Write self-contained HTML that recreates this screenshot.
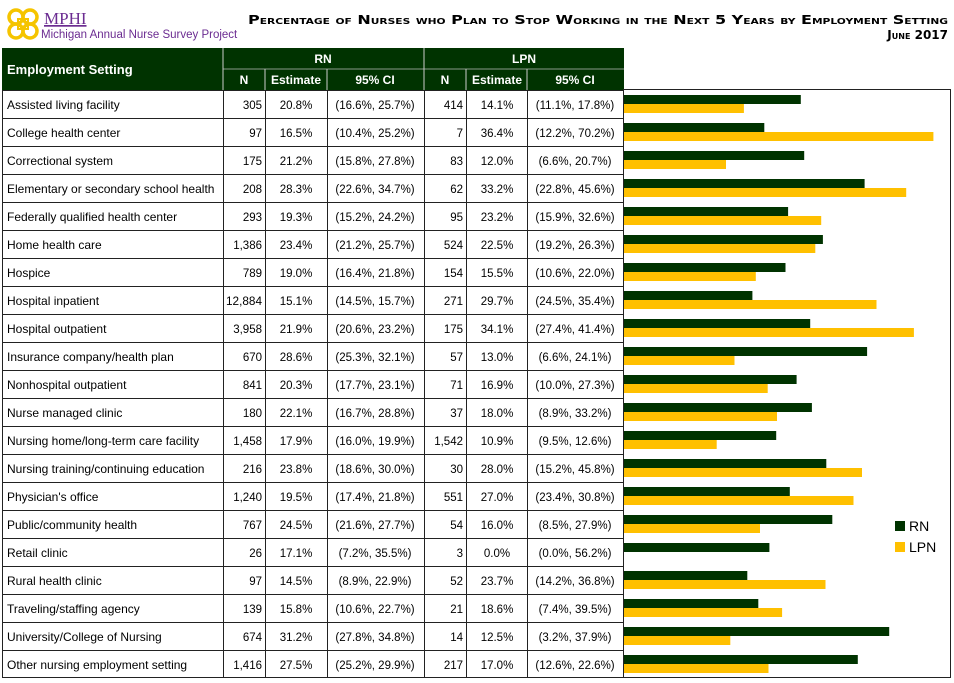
<!DOCTYPE html>
<html><head><meta charset="utf-8"><style>
html,body{margin:0;padding:0;background:#fff;}
svg{display:block;}
text{font-family:"Liberation Sans",sans-serif;font-size:12px;fill:#000;}
.h{font-weight:bold;fill:#fff;}
.r{text-anchor:end;}
.c{text-anchor:middle;}
.n{font-size:11.5px;}
</style></head><body>
<svg width="954" height="683" viewBox="0 0 954 683" xmlns="http://www.w3.org/2000/svg">
<!-- logo -->
<g fill="none" stroke="#F5C400" stroke-width="3.5">
<circle cx="16" cy="17" r="7"/><circle cx="30" cy="17" r="7"/><circle cx="16" cy="31" r="7"/><circle cx="30" cy="31" r="7"/>
<rect x="18" y="19" width="10" height="10" stroke-width="2"/>
</g>
<text x="44" y="24" style="font-family:'Liberation Serif',serif;font-size:17px;fill:#6B2C91;text-decoration:underline">MPHI</text>
<text x="41" y="38" style="font-size:11.5px;fill:#6B2C91">Michigan Annual Nurse Survey Project</text>
<!-- title -->
<text x="948" y="24" class="r" style="font-family:'DejaVu Sans',sans-serif;font-weight:bold;font-size:12px;font-variant:small-caps" textLength="700" lengthAdjust="spacingAndGlyphs">Percentage of Nurses who Plan to Stop Working in the Next 5 Years by Employment Setting</text>
<text x="948" y="39" class="r" style="font-family:'DejaVu Sans',sans-serif;font-weight:bold;font-size:12px;font-variant:small-caps">June 2017</text>
<!-- header -->
<rect x="2" y="48" width="622" height="42" fill="#003300"/>
<g stroke="#8a9a8a" stroke-width="1">
<line x1="223" y1="69" x2="624" y2="69"/>
</g>
<g stroke="#ccc" stroke-width="1">
<line x1="223" y1="48" x2="223" y2="90"/><line x1="424" y1="48" x2="424" y2="90"/>
<line x1="265" y1="69" x2="265" y2="90"/><line x1="327" y1="69" x2="327" y2="90"/>
<line x1="466" y1="69" x2="466" y2="90"/><line x1="527" y1="69" x2="527" y2="90"/>
</g>
<text x="7" y="74" class="h" style="font-size:13px">Employment Setting</text>
<text x="323" y="63" class="h c">RN</text>
<text x="524" y="63" class="h c">LPN</text>
<text x="244" y="84" class="h c">N</text><text x="296" y="84" class="h c">Estimate</text><text x="375" y="84" class="h c">95% CI</text>
<text x="445" y="84" class="h c">N</text><text x="497" y="84" class="h c">Estimate</text><text x="575" y="84" class="h c">95% CI</text>
<!-- table grid -->
<g stroke="#222" stroke-width="1" fill="none">
<rect x="2.5" y="90.5" width="621" height="587"/>
<rect x="623.5" y="89.5" width="327" height="588"/>
<line x1="223.5" y1="90" x2="223.5" y2="678"/><line x1="265.5" y1="90" x2="265.5" y2="678"/>
<line x1="327.5" y1="90" x2="327.5" y2="678"/><line x1="424.5" y1="90" x2="424.5" y2="678"/>
<line x1="466.5" y1="90" x2="466.5" y2="678"/><line x1="527.5" y1="90" x2="527.5" y2="678"/>
<line x1="2" y1="118.5" x2="624" y2="118.5"/><line x1="2" y1="146.5" x2="624" y2="146.5"/>
<line x1="2" y1="174.5" x2="624" y2="174.5"/><line x1="2" y1="202.5" x2="624" y2="202.5"/>
<line x1="2" y1="230.5" x2="624" y2="230.5"/><line x1="2" y1="258.5" x2="624" y2="258.5"/>
<line x1="2" y1="286.5" x2="624" y2="286.5"/><line x1="2" y1="314.5" x2="624" y2="314.5"/>
<line x1="2" y1="342.5" x2="624" y2="342.5"/><line x1="2" y1="370.5" x2="624" y2="370.5"/>
<line x1="2" y1="398.5" x2="624" y2="398.5"/><line x1="2" y1="426.5" x2="624" y2="426.5"/>
<line x1="2" y1="454.5" x2="624" y2="454.5"/><line x1="2" y1="482.5" x2="624" y2="482.5"/>
<line x1="2" y1="510.5" x2="624" y2="510.5"/><line x1="2" y1="538.5" x2="624" y2="538.5"/>
<line x1="2" y1="566.5" x2="624" y2="566.5"/><line x1="2" y1="594.5" x2="624" y2="594.5"/>
<line x1="2" y1="622.5" x2="624" y2="622.5"/><line x1="2" y1="650.5" x2="624" y2="650.5"/>
</g>
<!-- rows -->
<g class="n">
<text x="7" y="109">Assisted living facility</text><text x="262" y="109" class="r n">305</text><text x="296" y="109" class="c n">20.8%</text><text x="375" y="109" class="c n">(16.6%, 25.7%)</text><text x="463" y="109" class="r n">414</text><text x="497" y="109" class="c n">14.1%</text><text x="575" y="109" class="c n">(11.1%, 17.8%)</text>
<text x="7" y="137">College health center</text><text x="262" y="137" class="r n">97</text><text x="296" y="137" class="c n">16.5%</text><text x="375" y="137" class="c n">(10.4%, 25.2%)</text><text x="463" y="137" class="r n">7</text><text x="497" y="137" class="c n">36.4%</text><text x="575" y="137" class="c n">(12.2%, 70.2%)</text>
<text x="7" y="165">Correctional system</text><text x="262" y="165" class="r n">175</text><text x="296" y="165" class="c n">21.2%</text><text x="375" y="165" class="c n">(15.8%, 27.8%)</text><text x="463" y="165" class="r n">83</text><text x="497" y="165" class="c n">12.0%</text><text x="575" y="165" class="c n">(6.6%, 20.7%)</text>
<text x="7" y="193">Elementary or secondary school health</text><text x="262" y="193" class="r n">208</text><text x="296" y="193" class="c n">28.3%</text><text x="375" y="193" class="c n">(22.6%, 34.7%)</text><text x="463" y="193" class="r n">62</text><text x="497" y="193" class="c n">33.2%</text><text x="575" y="193" class="c n">(22.8%, 45.6%)</text>
<text x="7" y="221">Federally qualified health center</text><text x="262" y="221" class="r n">293</text><text x="296" y="221" class="c n">19.3%</text><text x="375" y="221" class="c n">(15.2%, 24.2%)</text><text x="463" y="221" class="r n">95</text><text x="497" y="221" class="c n">23.2%</text><text x="575" y="221" class="c n">(15.9%, 32.6%)</text>
<text x="7" y="249">Home health care</text><text x="262" y="249" class="r n">1,386</text><text x="296" y="249" class="c n">23.4%</text><text x="375" y="249" class="c n">(21.2%, 25.7%)</text><text x="463" y="249" class="r n">524</text><text x="497" y="249" class="c n">22.5%</text><text x="575" y="249" class="c n">(19.2%, 26.3%)</text>
<text x="7" y="277">Hospice</text><text x="262" y="277" class="r n">789</text><text x="296" y="277" class="c n">19.0%</text><text x="375" y="277" class="c n">(16.4%, 21.8%)</text><text x="463" y="277" class="r n">154</text><text x="497" y="277" class="c n">15.5%</text><text x="575" y="277" class="c n">(10.6%, 22.0%)</text>
<text x="7" y="305">Hospital inpatient</text><text x="262" y="305" class="r n" textLength="36" lengthAdjust="spacingAndGlyphs">12,884</text><text x="296" y="305" class="c n">15.1%</text><text x="375" y="305" class="c n">(14.5%, 15.7%)</text><text x="463" y="305" class="r n">271</text><text x="497" y="305" class="c n">29.7%</text><text x="575" y="305" class="c n">(24.5%, 35.4%)</text>
<text x="7" y="333">Hospital outpatient</text><text x="262" y="333" class="r n">3,958</text><text x="296" y="333" class="c n">21.9%</text><text x="375" y="333" class="c n">(20.6%, 23.2%)</text><text x="463" y="333" class="r n">175</text><text x="497" y="333" class="c n">34.1%</text><text x="575" y="333" class="c n">(27.4%, 41.4%)</text>
<text x="7" y="361">Insurance company/health plan</text><text x="262" y="361" class="r n">670</text><text x="296" y="361" class="c n">28.6%</text><text x="375" y="361" class="c n">(25.3%, 32.1%)</text><text x="463" y="361" class="r n">57</text><text x="497" y="361" class="c n">13.0%</text><text x="575" y="361" class="c n">(6.6%, 24.1%)</text>
<text x="7" y="389">Nonhospital outpatient</text><text x="262" y="389" class="r n">841</text><text x="296" y="389" class="c n">20.3%</text><text x="375" y="389" class="c n">(17.7%, 23.1%)</text><text x="463" y="389" class="r n">71</text><text x="497" y="389" class="c n">16.9%</text><text x="575" y="389" class="c n">(10.0%, 27.3%)</text>
<text x="7" y="417">Nurse managed clinic</text><text x="262" y="417" class="r n">180</text><text x="296" y="417" class="c n">22.1%</text><text x="375" y="417" class="c n">(16.7%, 28.8%)</text><text x="463" y="417" class="r n">37</text><text x="497" y="417" class="c n">18.0%</text><text x="575" y="417" class="c n">(8.9%, 33.2%)</text>
<text x="7" y="445">Nursing home/long-term care facility</text><text x="262" y="445" class="r n">1,458</text><text x="296" y="445" class="c n">17.9%</text><text x="375" y="445" class="c n">(16.0%, 19.9%)</text><text x="463" y="445" class="r n">1,542</text><text x="497" y="445" class="c n">10.9%</text><text x="575" y="445" class="c n">(9.5%, 12.6%)</text>
<text x="7" y="473">Nursing training/continuing education</text><text x="262" y="473" class="r n">216</text><text x="296" y="473" class="c n">23.8%</text><text x="375" y="473" class="c n">(18.6%, 30.0%)</text><text x="463" y="473" class="r n">30</text><text x="497" y="473" class="c n">28.0%</text><text x="575" y="473" class="c n">(15.2%, 45.8%)</text>
<text x="7" y="501">Physician's office</text><text x="262" y="501" class="r n">1,240</text><text x="296" y="501" class="c n">19.5%</text><text x="375" y="501" class="c n">(17.4%, 21.8%)</text><text x="463" y="501" class="r n">551</text><text x="497" y="501" class="c n">27.0%</text><text x="575" y="501" class="c n">(23.4%, 30.8%)</text>
<text x="7" y="529">Public/community health</text><text x="262" y="529" class="r n">767</text><text x="296" y="529" class="c n">24.5%</text><text x="375" y="529" class="c n">(21.6%, 27.7%)</text><text x="463" y="529" class="r n">54</text><text x="497" y="529" class="c n">16.0%</text><text x="575" y="529" class="c n">(8.5%, 27.9%)</text>
<text x="7" y="557">Retail clinic</text><text x="262" y="557" class="r n">26</text><text x="296" y="557" class="c n">17.1%</text><text x="375" y="557" class="c n">(7.2%, 35.5%)</text><text x="463" y="557" class="r n">3</text><text x="497" y="557" class="c n">0.0%</text><text x="575" y="557" class="c n">(0.0%, 56.2%)</text>
<text x="7" y="585">Rural health clinic</text><text x="262" y="585" class="r n">97</text><text x="296" y="585" class="c n">14.5%</text><text x="375" y="585" class="c n">(8.9%, 22.9%)</text><text x="463" y="585" class="r n">52</text><text x="497" y="585" class="c n">23.7%</text><text x="575" y="585" class="c n">(14.2%, 36.8%)</text>
<text x="7" y="613">Traveling/staffing agency</text><text x="262" y="613" class="r n">139</text><text x="296" y="613" class="c n">15.8%</text><text x="375" y="613" class="c n">(10.6%, 22.7%)</text><text x="463" y="613" class="r n">21</text><text x="497" y="613" class="c n">18.6%</text><text x="575" y="613" class="c n">(7.4%, 39.5%)</text>
<text x="7" y="641">University/College of Nursing</text><text x="262" y="641" class="r n">674</text><text x="296" y="641" class="c n">31.2%</text><text x="375" y="641" class="c n">(27.8%, 34.8%)</text><text x="463" y="641" class="r n">14</text><text x="497" y="641" class="c n">12.5%</text><text x="575" y="641" class="c n">(3.2%, 37.9%)</text>
<text x="7" y="669">Other nursing employment setting</text><text x="262" y="669" class="r n">1,416</text><text x="296" y="669" class="c n">27.5%</text><text x="375" y="669" class="c n">(25.2%, 29.9%)</text><text x="463" y="669" class="r n">217</text><text x="497" y="669" class="c n">17.0%</text><text x="575" y="669" class="c n">(12.6%, 22.6%)</text>
</g>
<!-- bars -->
<g fill="#003300">
<rect x="624" y="95" width="176.8" height="9"/><rect x="624" y="123" width="140.3" height="9"/><rect x="624" y="151" width="180.2" height="9"/><rect x="624" y="179" width="240.6" height="9"/><rect x="624" y="207" width="164.1" height="9"/><rect x="624" y="235" width="198.9" height="9"/><rect x="624" y="263" width="161.5" height="9"/><rect x="624" y="291" width="128.4" height="9"/><rect x="624" y="319" width="186.2" height="9"/><rect x="624" y="347" width="243.1" height="9"/><rect x="624" y="375" width="172.6" height="9"/><rect x="624" y="403" width="187.9" height="9"/><rect x="624" y="431" width="152.2" height="9"/><rect x="624" y="459" width="202.3" height="9"/><rect x="624" y="487" width="165.8" height="9"/><rect x="624" y="515" width="208.3" height="9"/><rect x="624" y="543" width="145.4" height="9"/><rect x="624" y="571" width="123.3" height="9"/><rect x="624" y="599" width="134.3" height="9"/><rect x="624" y="627" width="265.2" height="9"/><rect x="624" y="655" width="233.8" height="9"/>
</g>
<g fill="#FFC000">
<rect x="624" y="104" width="119.9" height="9"/><rect x="624" y="132" width="309.4" height="9"/><rect x="624" y="160" width="102" height="9"/><rect x="624" y="188" width="282.2" height="9"/><rect x="624" y="216" width="197.2" height="9"/><rect x="624" y="244" width="191.3" height="9"/><rect x="624" y="272" width="131.8" height="9"/><rect x="624" y="300" width="252.5" height="9"/><rect x="624" y="328" width="289.9" height="9"/><rect x="624" y="356" width="110.5" height="9"/><rect x="624" y="384" width="143.7" height="9"/><rect x="624" y="412" width="153" height="9"/><rect x="624" y="440" width="92.7" height="9"/><rect x="624" y="468" width="238" height="9"/><rect x="624" y="496" width="229.5" height="9"/><rect x="624" y="524" width="136" height="9"/><rect x="624" y="580" width="201.5" height="9"/><rect x="624" y="608" width="158.1" height="9"/><rect x="624" y="636" width="106.3" height="9"/><rect x="624" y="664" width="144.5" height="9"/>
</g>
<!-- legend -->
<rect x="895" y="521" width="10" height="10" fill="#003300"/>
<text x="909" y="531" style="font-size:14px">RN</text>
<rect x="895" y="542" width="10" height="10" fill="#FFC000"/>
<text x="909" y="552" style="font-size:14px">LPN</text>
</svg>
</body></html>
